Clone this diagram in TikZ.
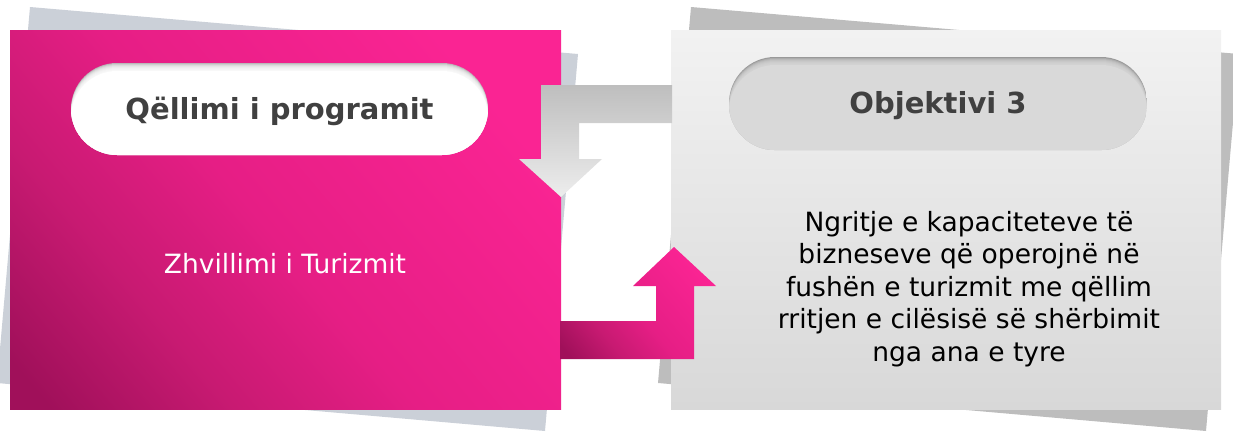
\documentclass[tikz,border=0pt]{standalone}
\usepackage{fontspec}
\setmainfont{DejaVu Sans}
\definecolor{pinkTop}{HTML}{FA2493}
\definecolor{pinkMid}{HTML}{E61E85}
\definecolor{pinkQ}{HTML}{C81A72}
\definecolor{pinkBot}{HTML}{A0105A}
\definecolor{shadowL}{HTML}{CBD0D8}
\definecolor{shadowR}{HTML}{BDBDBD}
\definecolor{panelTop}{HTML}{F2F2F2}
\definecolor{panelBot}{HTML}{D8D8D8}
\definecolor{arrowTop}{HTML}{BEBEBE}
\definecolor{arrowBot}{HTML}{EDEDED}
\definecolor{titleText}{HTML}{404040}
\definecolor{pillGrey}{HTML}{D9D9D9}
\pgfdeclareverticalshading{pinkgrad}{100bp}{color(0bp)=(pinkBot); color(18bp)=(pinkBot); color(33bp)=(pinkQ); color(48bp)=(pinkMid); color(75bp)=(pinkTop); color(100bp)=(pinkTop)}
\tikzset{
  pinkshade/.style={shading=pinkgrad, shading angle=-50},
  titletext/.style={font=\bfseries\fontsize{29}{34}\selectfont, text=titleText, inner sep=0pt},
  pilltext/.style={font=\fontsize{26.5}{32}\selectfont, text=white, inner sep=0pt},
  bodytext/.style={font=\fontsize{26.5}{32.5}\selectfont, text=black, align=center, inner sep=0pt},
}
\begin{document}
\begin{tikzpicture}[x=1pt,y=-1pt]
\useasboundingbox (0,0) rectangle (1233,431);
% tilted shadows
\fill[shadowL] (30,7) -- (578,54) -- (545,431) -- (-3,383) -- cycle;
\fill[shadowR] (691,7) -- (1239,54) -- (1206,431) -- (658,383) -- cycle;
% panels
\shade[pinkshade] (10,30) rectangle (561,409);
\shade[top color=panelTop, bottom color=panelBot] (671,30) rectangle (1221,409);
% grey arrow (right -> down)
\shade[top color=arrowTop, bottom color=arrowBot]
  (672,85) -- (541,85) -- (541,159) -- (519,159) -- (561,197) -- (602,159)
  -- (579,159) -- (579,123) -- (672,123) -- cycle;
% pink arrow (right -> up)
\shade[pinkshade]
  (560,321) -- (656,321) -- (656,286) -- (633,286) -- (674,247) -- (716,286)
  -- (694,286) -- (694,359) -- (560,359) -- cycle;
% left pill with inner shadow
\begin{scope}
  \clip[rounded corners=46pt] (71,63) rectangle (488,155);
  \fill[gray!55] (71,63) rectangle (488,155);
  \foreach \k in {1,2,...,7} {
    \fill[white, opacity=0.3, rounded corners=46pt] (71,63+\k) rectangle (488,155+\k);
  }
  \fill[white, rounded corners=46pt] (71,71) rectangle (488,163);
\end{scope}
% right pill with inner shadow
\begin{scope}
  \clip[rounded corners=46pt] (729,57) rectangle (1147,150);
  \fill[gray!80] (729,57) rectangle (1147,150);
  \foreach \k in {1,2,...,7} {
    \fill[pillGrey, opacity=0.3, rounded corners=46pt] (729,57+\k) rectangle (1147,150+\k);
  }
  \fill[pillGrey, rounded corners=46pt] (729,65) rectangle (1147,158);
\end{scope}
% texts
\node[titletext] (goal) at (279.5,111) {Qëllimi i programit};
\node[pilltext] (dev) at (285,264) {Zhvillimi i Turizmit};
\node[titletext] (obj) at (938,106) {Objektivi 3};
\node[bodytext] (desc) at (969,289) {Ngritje e kapaciteteve të\\bizneseve që operojnë në\\fushën e turizmit me qëllim\\rritjen e cilësisë së shërbimit\\nga ana e tyre};
\end{tikzpicture}
\end{document}
